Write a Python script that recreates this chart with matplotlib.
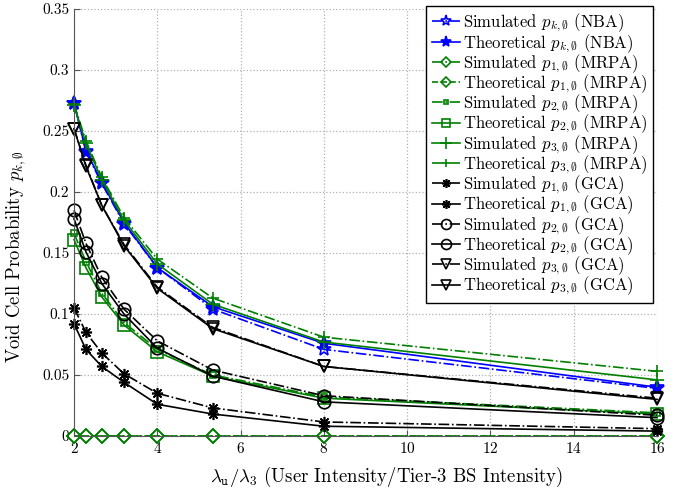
import matplotlib
matplotlib.use("Agg")
import matplotlib.pyplot as plt
import numpy as np

plt.rcParams['font.family'] = 'serif'
plt.rcParams['font.serif'] = ['cmr10', 'DejaVu Serif']
plt.rcParams['mathtext.fontset'] = 'cm'
plt.rcParams['axes.formatter.use_mathtext'] = True

x = [16/8, 16/7, 16/6, 16/5, 16/4, 16/3, 16/2, 16/1]

nba_sim = [0.273, 0.233, 0.207, 0.174, 0.138, 0.104, 0.071, 0.039]
nba_thy = [0.273, 0.234, 0.208, 0.175, 0.138, 0.106, 0.076, 0.040]
mrpa1_sim = [0, 0, 0, 0, 0, 0, 0, 0]
mrpa1_thy = [0, 0, 0, 0, 0, 0, 0, 0]
mrpa2_sim = [0.166, 0.143, 0.117, 0.093, 0.071, 0.050, 0.032, 0.019]
mrpa2_thy = [0.161, 0.138, 0.114, 0.091, 0.069, 0.049, 0.031, 0.018]
mrpa3_sim = [0.271, 0.240, 0.210, 0.177, 0.141, 0.108, 0.077, 0.046]
mrpa3_thy = [0.272, 0.242, 0.212, 0.179, 0.145, 0.113, 0.081, 0.053]
gca1_sim = [0.105, 0.085, 0.068, 0.051, 0.035, 0.023, 0.0115, 0.006]
gca1_thy = [0.092, 0.071, 0.057, 0.044, 0.026, 0.018, 0.008, 0.004]
gca2_sim = [0.185, 0.158, 0.130, 0.104, 0.078, 0.054, 0.033, 0.017]
gca2_thy = [0.178, 0.151, 0.125, 0.100, 0.072, 0.049, 0.028, 0.015]
gca3_sim = [0.252, 0.222, 0.189, 0.157, 0.122, 0.089, 0.057, 0.031]
gca3_thy = [0.252, 0.221, 0.189, 0.156, 0.121, 0.088, 0.057, 0.030]

green = '#008000'
ast = (8, 2, 0)
fig = plt.figure(figsize=(6.81, 4.90), dpi=100)
ax = fig.add_axes([0.1087, 0.1102, 0.8561, 0.8714])

lw = 1.2
series = [
    (nba_sim, 'b', '-.', '*', 10, 'none', r'Simulated $p_{k,\emptyset}$ (NBA)'),
    (nba_thy, 'b', '-', '*', 10, 'b', r'Theoretical $p_{k,\emptyset}$ (NBA)'),
    (mrpa1_sim, green, '-.', 'D', 7, 'none', r'Simulated $p_{1,\emptyset}$ (MRPA)'),
    (mrpa1_thy, green, '--', 'D', 7, 'none', r'Theoretical $p_{1,\emptyset}$ (MRPA)'),
    (mrpa2_sim, green, '-.', 's', 4, 'none', r'Simulated $p_{2,\emptyset}$ (MRPA)'),
    (mrpa2_thy, green, '-', 's', 8, 'none', r'Theoretical $p_{2,\emptyset}$ (MRPA)'),
    (mrpa3_sim, green, '-', '+', 10, 'none', r'Simulated $p_{3,\emptyset}$ (MRPA)'),
    (mrpa3_thy, green, '-.', '+', 8, 'none', r'Theoretical $p_{3,\emptyset}$ (MRPA)'),
    (gca1_sim, 'k', '-.', ast, 8, 'k', r'Simulated $p_{1,\emptyset}$ (GCA)'),
    (gca1_thy, 'k', '-', ast, 8, 'k', r'Theoretical $p_{1,\emptyset}$ (GCA)'),
    (gca2_sim, 'k', '-.', 'o', 9, 'none', r'Simulated $p_{2,\emptyset}$ (GCA)'),
    (gca2_thy, 'k', '-', 'o', 9, 'none', r'Theoretical $p_{2,\emptyset}$ (GCA)'),
    (gca3_sim, 'k', '-.', 'v', 9, 'none', r'Simulated $p_{3,\emptyset}$ (GCA)'),
    (gca3_thy, 'k', '-', 'v', 9, 'none', r'Theoretical $p_{3,\emptyset}$ (GCA)'),
]
for ys, c, ls, mk, ms, mfc, lab in series:
    ax.plot(x, ys, color=c, linestyle=ls, marker=mk, markersize=ms,
            markerfacecolor=mfc, markeredgecolor=c, markeredgewidth=1.2,
            linewidth=lw, label=lab, clip_on=False)

ax.set_xlim(2, 16)
ax.set_ylim(0, 0.35)
ax.set_xticks([2, 4, 6, 8, 10, 12, 14, 16])
ax.set_yticks([0, 0.05, 0.1, 0.15, 0.2, 0.25, 0.3, 0.35])
ax.set_yticklabels(['0', '0.05', '0.1', '0.15', '0.2', '0.25', '0.3', '0.35'])
ax.grid(True, linestyle=':', color='#b0b0b0', linewidth=0.9)
for s in ['top', 'right']:
    ax.spines[s].set_visible(False)
ax.spines['left'].set_color('#555555')
ax.spines['bottom'].set_color('#555555')
ax.tick_params(direction='in', labelsize=11, length=4, color='#555555')
ax.set_xlabel(r'$\lambda_{\mathtt{u}}/\lambda_3$ (User Intensity/Tier-3 BS Intensity)', fontsize=13.5)
ax.set_ylabel(r'Void Cell Probability $p_{k,\emptyset}$', fontsize=13.5)
ax.xaxis.set_label_coords(0.535, -0.068)
ax.yaxis.set_label_coords(-0.079, 0.42)

leg = ax.legend(loc='upper right', bbox_to_anchor=(0.9935, 1.007), fontsize=12,
                frameon=True, fancybox=False, edgecolor='k', framealpha=1,
                handlelength=1.7, handletextpad=0.15, labelspacing=-0.13,
                borderpad=0.35, borderaxespad=0.0, markerscale=0.8)
leg.get_frame().set_linewidth(1.0)

fig.savefig('out.png', dpi=100)
